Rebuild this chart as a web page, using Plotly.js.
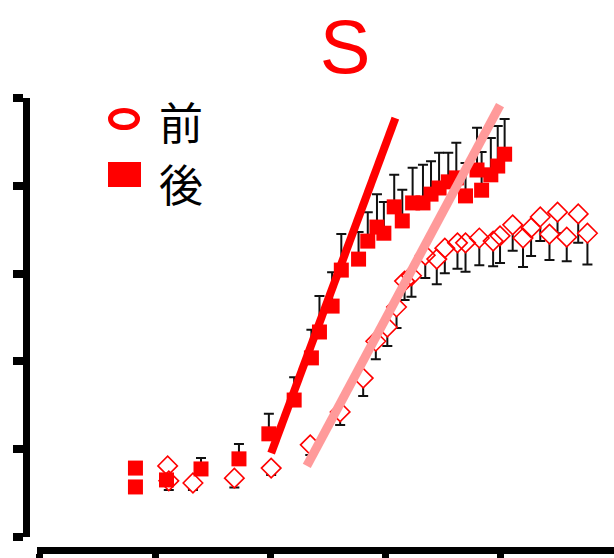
<!DOCTYPE html>
<html>
<head>
<meta charset="utf-8">
<script src="https://cdn.plot.ly/plotly-3.0.1.min.js"></script>
<style>html,body{margin:0;padding:0;background:#fff;}#chart{width:614px;height:558px;}</style>
</head>
<body>
<div id="chart"></div>
<script>
// ---- data ----
var titleText = "S";
var legendLabels = ["前", "後"];

// 前 (before): open diamonds, error bars downward
var beforeX = [11.1, 11.2, 13.3, 16.9, 20.1, 23.5, 26.1, 28.1, 29.2, 30.2, 31.0, 31.7, 32.3, 33.5, 34.5, 35.2, 36.3, 37.0, 38.2, 39.4, 40.0, 41.1, 42.0, 42.7, 43.5, 44.3, 45.0, 45.8, 46.8, 47.6];
var beforeY = [16.2, 12.8, 12.3, 13.4, 15.7, 21.0, 28.5, 36.2, 44.6, 47.8, 52.4, 58.3, 59.5, 64.2, 63.3, 65.8, 67.0, 67.0, 68.1, 67.4, 68.6, 71.1, 68.1, 70.4, 72.9, 69.0, 74.0, 68.3, 73.6, 69.2];
var beforeErr = [0, 2.1, 1.6, 2.1, 1.6, 2.3, 3.0, 4.1, 4.1, 4.3, 4.8, 4.3, 4.8, 5.2, 5.7, 5.7, 5.9, 6.6, 6.2, 5.7, 6.2, 5.9, 6.6, 6.4, 5.5, 5.9, 4.8, 5.5, 6.6, 7.1];

// 後 (after): filled squares, error bars upward
var afterX = [8.3, 8.3, 11.0, 14.0, 17.3, 19.9, 22.1, 23.6, 24.3, 25.4, 26.2, 27.7, 28.5, 29.3, 29.9, 30.8, 31.5, 32.4, 33.3, 34.0, 34.7, 35.5, 36.2, 37.0, 38.0, 38.4, 39.2, 39.8, 40.4];
var afterY = [15.7, 11.4, 13.0, 15.5, 17.8, 23.5, 31.2, 40.8, 46.7, 52.6, 60.8, 63.3, 67.4, 70.6, 69.2, 75.2, 72.0, 76.1, 76.1, 78.1, 79.5, 80.9, 81.8, 77.7, 83.6, 79.0, 82.5, 84.5, 87.2];
var afterErr = [0, 0, 0, 2.5, 3.4, 4.6, 5.2, 6.4, 8.2, 7.7, 8.2, 6.2, 6.6, 7.5, 7.1, 7.3, 7.1, 8.0, 8.7, 7.5, 8.0, 6.6, 8.0, 7.5, 9.6, 8.7, 8.4, 9.1, 8.0];

// fitted slope lines (endpoints)
var afterFitX = [20.1, 30.9];
var afterFitY = [19.1, 95.4];
var beforeFitX = [23.2, 40.0];
var beforeFitY = [16.2, 98.4];

var xTicks = [0, 10, 20, 30, 40, 50];
var yTicks = [0, 20, 40, 60, 80, 100];

// ---- chart ----
var W = 614, H = 558;
function px(x){ return x / W; }
function py(y){ return (H - y) / H; }
function zeros(a){ return a.map(function(){ return 0; }); }

var errStyle = {color: '#111', thickness: 2, width: 5};
var diamondSize = 15;

var traces = [
  // error bars of 前, with white diamond bodies hiding the part inside each marker
  {
    x: beforeX, y: beforeY, type: 'scatter', mode: 'markers',
    marker: {symbol: 'diamond', size: diamondSize, color: '#ffffff', line: {width: 0}},
    error_y: Object.assign({type: 'data', symmetric: false, array: zeros(beforeErr), arrayminus: beforeErr}, errStyle),
    showlegend: false, hoverinfo: 'skip'
  },
  {
    name: legendLabels[0], x: beforeX, y: beforeY, type: 'scatter', mode: 'markers',
    marker: {symbol: 'diamond-open', size: diamondSize, color: '#ff0000', line: {width: 1.6, color: '#ff0000'}},
    showlegend: false
  },
  {
    name: legendLabels[1], x: afterX, y: afterY, type: 'scatter', mode: 'markers',
    marker: {symbol: 'square', size: 15, color: '#ff0000'},
    error_y: Object.assign({type: 'data', symmetric: false, array: afterErr, arrayminus: zeros(afterErr)}, errStyle),
    showlegend: false
  },
  {
    x: afterFitX, y: afterFitY, type: 'scatter', mode: 'lines',
    line: {color: '#ff0000', width: 8}, showlegend: false, hoverinfo: 'skip'
  },
  {
    x: beforeFitX, y: beforeFitY, type: 'scatter', mode: 'lines',
    line: {color: '#ff9a9a', width: 9}, showlegend: false, hoverinfo: 'skip'
  }
];

var layout = {
  width: W, height: H,
  margin: {l: 0, r: 0, t: 0, b: 0, pad: 0},
  paper_bgcolor: '#ffffff', plot_bgcolor: '#ffffff',
  font: {family: 'Liberation Sans, Arial, sans-serif', color: '#000'},
  showlegend: false,
  title: {
    text: titleText, font: {family: 'Liberation Sans, Arial, sans-serif', size: 76, color: '#ff0000'},
    xref: 'container', yref: 'container', x: px(345), y: py(46), xanchor: 'center', yanchor: 'middle'
  },
  xaxis: {
    domain: [px(37), 1], range: [-0.26, 49.91], anchor: 'free', position: py(549.5),
    showline: true, linewidth: 7, linecolor: '#000',
    ticks: 'outside', ticklen: 10, tickwidth: 7, tickcolor: '#000',
    tickmode: 'array', tickvals: xTicks, showticklabels: false,
    showgrid: false, zeroline: false
  },
  yaxis: {
    domain: [py(537), py(98)], range: [0, 100], anchor: 'free', position: px(25.5),
    showline: true, linewidth: 7, linecolor: '#000',
    ticks: 'outside', ticklen: 10, tickwidth: 8, tickcolor: '#000',
    tickmode: 'array', tickvals: yTicks, showticklabels: false,
    showgrid: false, zeroline: false
  },
  shapes: [
    {type: 'circle', xref: 'paper', yref: 'paper', x0: px(110.5), x1: px(137.5), y0: py(127.5), y1: py(110.5),
     line: {color: '#ff0000', width: 5}, fillcolor: 'rgba(0,0,0,0)'},
    {type: 'rect', xref: 'paper', yref: 'paper', x0: px(108), x1: px(141), y0: py(187), y1: py(162),
     line: {width: 0}, fillcolor: '#ff0000'}
  ],
  annotations: [
    {text: legendLabels[0], xref: 'paper', yref: 'paper', x: px(157), y: py(121), xanchor: 'left', yanchor: 'middle',
     showarrow: false, font: {family: 'Noto Sans CJK JP', size: 44, color: '#000'}},
    {text: legendLabels[1], xref: 'paper', yref: 'paper', x: px(157), y: py(183), xanchor: 'left', yanchor: 'middle',
     showarrow: false, font: {family: 'Noto Sans CJK JP', size: 44, color: '#000'}}
  ]
};

Plotly.newPlot('chart', traces, layout, {staticPlot: true, displayModeBar: false});
</script>
</body>
</html>
